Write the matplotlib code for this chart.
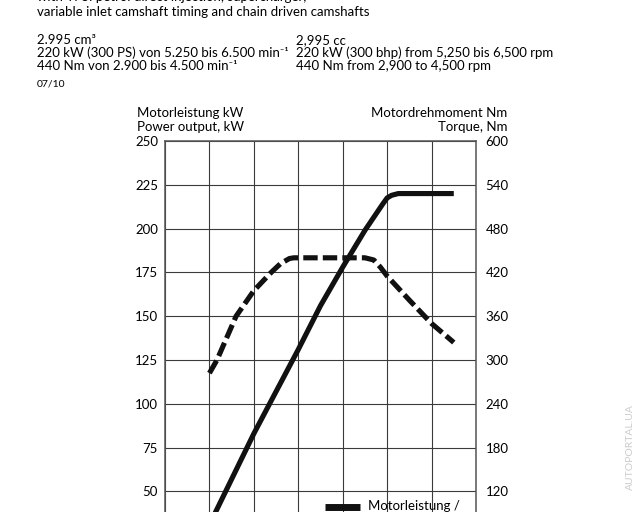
import matplotlib
matplotlib.use('Agg')
import matplotlib.pyplot as plt
from matplotlib.lines import Line2D

plt.rcParams['font.family'] = ['Lato', 'DejaVu Sans']

# values (power in kW, torque in Nm, engine speed in rpm)
rpm_power = [1000, 1500, 2000, 2500, 3000, 3500, 4000, 4500, 4900, 5000, 5100, 5250, 6500]
power_kw = [31, 57, 83, 107, 131, 156, 178, 199, 214, 217.5, 219, 220, 220]

rpm_torque = [1000, 1170, 1600, 2000, 2390, 2600, 2800, 2900, 4500, 4700, 4850, 5000, 5500, 6000, 6500]
torque_nm = [282, 300, 360, 395, 420, 432, 439, 440, 440, 437, 427, 415, 382, 350, 324]

# only the labels that are inside the cropped page
kw_ticks = [50, 75, 100, 125, 150, 175, 200, 225, 250]
nm_ticks = [120, 180, 240, 300, 360, 420, 480, 540, 600]
rpm_grid = [0, 1000, 2000, 3000, 4000, 5000, 6000, 7000]

header = [
    'with TFSI petrol direct injection, supercharger,',
    'variable inlet camshaft timing and chain driven camshafts',
]
spec_de = ['2.995 cm³', '220 kW (300 PS) von 5.250 bis 6.500 min⁻¹', '440 Nm von 2.900 bis 4.500 min⁻¹']
spec_en = ['2,995 cc', '220 kW (300 bhp) from 5,250 bis 6,500 rpm', '440 Nm from 2,900 to 4,500 rpm']

W, H = 640, 512
fig = plt.figure(figsize=(6.4, 5.12), dpi=100)
fig.patch.set_facecolor('white')

# axes box in pixels: left 165, right 476, top 141 (250 kW), 0 kW at 579 (below the crop)
ax = fig.add_axes([165 / W, (H - 579) / H, 311 / W, 438 / H])
ax.set_xlim(0, 7000)
ax.set_ylim(0, 250)
ax.set_xticks(rpm_grid)
ax.set_yticks(kw_ticks)
ax.set_xticklabels([])
ax.grid(True, color='#3a3a3a', lw=0.8)
ax.tick_params(length=0, labelsize=9.5, pad=5)
for s in ax.spines.values():
    s.set_color('#555555')
    s.set_linewidth(1.1)

ax2 = ax.twinx()
ax2.set_ylim(0, 600)
ax2.set_yticks(nm_ticks)
ax2.tick_params(length=0, labelsize=9.5, pad=7)
for s in ax2.spines.values():
    s.set_visible(False)

ax.plot(rpm_power, power_kw, color='#111111', lw=3.7, solid_capstyle='butt',
        solid_joinstyle='round', zorder=3)
ax2.plot(rpm_torque, torque_nm, color='#111111', lw=3.7, dashes=(2.8, 1.0),
         dash_capstyle='butt', zorder=3)

# axis titles
fig.text(137 / W, 1 - 113 / H, 'Motorleistung kW', fontsize=9.5, ha='left', va='center')
fig.text(137 / W, 1 - 127 / H, 'Power output, kW', fontsize=9.5, ha='left', va='center')
fig.text(507 / W, 1 - 113 / H, 'Motordrehmoment Nm', fontsize=9.5, ha='right', va='center')
fig.text(507 / W, 1 - 127 / H, 'Torque, Nm', fontsize=9.5, ha='right', va='center')

# header text (top part of the page is cropped)
fig.text(37 / W, 1 + 3 / H, header[0], fontsize=9.5, ha='left', va='center')
fig.text(37 / W, 1 - 12 / H, header[1], fontsize=9.5, ha='left', va='center')
for i, (de, en) in enumerate(zip(spec_de, spec_en)):
    y = 1 - (40 + 13 * i) / H
    fig.text(37 / W, y, de, fontsize=9.5, ha='left', va='center')
    fig.text(296 / W, y, en, fontsize=9.5, ha='left', va='center')
fig.text(37 / W, 1 - 84 / H, '07/10', fontsize=7.5, ha='left', va='center')

# legend (cut off by the crop)
fig.add_artist(Line2D([325 / W, 360 / W], [1 - 507 / H, 1 - 507 / H], color='#111111',
                      lw=5, solid_capstyle='butt', transform=fig.transFigure))
fig.text(368 / W, 1 - 506 / H, 'Motorleistung /', fontsize=9.5, ha='left', va='center')

# watermark
fig.text(630 / W, 1 - 447 / H, 'AUTOPORTAL.UA', fontsize=7.5, color='#cccccc',
         rotation=90, ha='center', va='center')

fig.savefig('out.png', dpi=100)
